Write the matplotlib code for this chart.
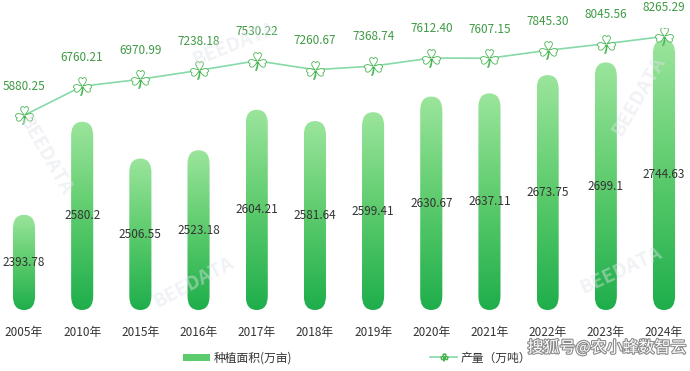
import numpy as np
import matplotlib
matplotlib.use("Agg")
import matplotlib.pyplot as plt
from matplotlib.patches import FancyBboxPatch
from matplotlib.colors import LinearSegmentedColormap
import matplotlib.patheffects as pe

plt.rcParams['font.family'] = ['Noto Sans CJK SC', 'DejaVu Sans']

years = ['2005年', '2010年', '2015年', '2016年', '2017年', '2018年',
         '2019年', '2020年', '2021年', '2022年', '2023年', '2024年']
area = [2393.78, 2580.2, 2506.55, 2523.18, 2604.21, 2581.64,
        2599.41, 2630.67, 2637.11, 2673.75, 2699.1, 2744.63]
output = [5880.25, 6760.21, 6970.99, 7238.18, 7530.22, 7260.67,
          7368.74, 7612.40, 7607.15, 7845.30, 8045.56, 8265.29]
area_labels = ['2393.78', '2580.2', '2506.55', '2523.18', '2604.21', '2581.64',
               '2599.41', '2630.67', '2637.11', '2673.75', '2699.1', '2744.63']
output_labels = ['5880.25', '6760.21', '6970.99', '7238.18', '7530.22', '7260.67',
                 '7368.74', '7612.40', '7607.15', '7845.30', '8045.56', '8265.29']

fig = plt.figure(figsize=(6.9, 3.71), dpi=100)
ax = fig.add_axes([0, 0.1644, 1, 0.7601])
ax2 = ax.twinx()

ymin, ymax = 2203, 2768
ax.set_xlim(-0.4125, 11.447)
ax.set_ylim(ymin, ymax)
ax2.set_ylim(0, 8520)

# watermarks (drawn under the data)
wm = dict(color='#dfe3ea', fontsize=14, fontweight='bold', alpha=0.45, zorder=0)
fig.text(0.34, 0.88, 'BEEDATA', rotation=22, ha='center', va='center', **wm)
fig.text(0.28, 0.24, 'BEEDATA', rotation=28, ha='center', va='center', **wm)
fig.text(0.065, 0.58, 'BEEDATA', rotation=-60, ha='center', va='center', **wm)
fig.text(0.925, 0.74, 'BEEDATA', rotation=60, ha='center', va='center', **wm)
fig.text(0.9, 0.27, 'BEEDATA', rotation=25, ha='center', va='center', **wm)

cmap = LinearSegmentedColormap.from_list('g', ['#1fae4c', '#5ccb6c', '#9be59c'])
grad = np.linspace(0, 1, 256).reshape(-1, 1)
x = np.arange(len(years))
bw = 0.38
for i, v in enumerate(area):
    p = FancyBboxPatch((x[i] - bw / 2, ymin), bw, v - ymin,
                       boxstyle='round,pad=0,rounding_size=0.19',
                       mutation_aspect=150, facecolor='none', edgecolor='none')
    ax.add_patch(p)
    im = ax.imshow(grad, cmap=cmap, origin='lower', aspect='auto',
                   extent=(x[i] - bw / 2, x[i] + bw / 2, ymin, v), zorder=2)
    im.set_clip_path(p)
    ax.text(x[i], (ymin + v) / 2, area_labels[i], ha='center', va='center',
            fontsize=8.5, color='#333333', zorder=5)
ax.set_xlim(-0.4125, 11.447)
ax.set_ylim(ymin, ymax)
ax.patch.set_visible(False)
ax2.patch.set_visible(False)

ax2.plot(x, output, color='#86d9a8', lw=1.2, zorder=3,
         marker='$\u2618$', markersize=13, markerfacecolor='white',
         markeredgecolor='#47b552', markeredgewidth=0.6)
for i, v in enumerate(output):
    ax2.annotate(output_labels[i], (x[i], v), xytext=(0, 21),
                 textcoords='offset points', ha='center', va='center',
                 fontsize=8.5, color='#3f9a45')

for a in (ax, ax2):
    for s in a.spines.values():
        s.set_visible(False)
    a.tick_params(left=False, right=False, labelleft=False, labelright=False,
                  bottom=False)
ax.set_xticks(x)
ax.set_xticklabels(years, fontsize=8.5, color='#333333')
ax.tick_params(axis='x', pad=8)

# legend
h1 = FancyBboxPatch((0, 0), 1, 1, facecolor='#5ccb6c', edgecolor='none')
leg1 = fig.legend([h1], ['种植面积(万亩)'], loc='center left',
                  bbox_to_anchor=(0.25, 0.035), frameon=False, fontsize=8.5,
                  handlelength=2.3, handleheight=0.5, handletextpad=0.3)
for t in leg1.get_texts():
    t.set_color('#333333')
l2, = ax2.plot([], [], color='#86d9a8', lw=1.2, marker='$\u2618$',
               markersize=5, markerfacecolor='white', markeredgecolor='#47b552')
leg2 = fig.legend([l2], ['产量（万吨）'], loc='center left',
                  bbox_to_anchor=(0.608, 0.035), frameon=False, fontsize=8.5,
                  handlelength=2.3, handletextpad=0.3)
for t in leg2.get_texts():
    t.set_color('#333333')

fig.text(0.995, 0.062, '搜狐号@农小蜂数智云', ha='right', va='center',
         fontsize=11.5, color='white',
         path_effects=[pe.withStroke(linewidth=1.6, foreground='#8a8a8a')])

fig.savefig('out.png', dpi=100)
